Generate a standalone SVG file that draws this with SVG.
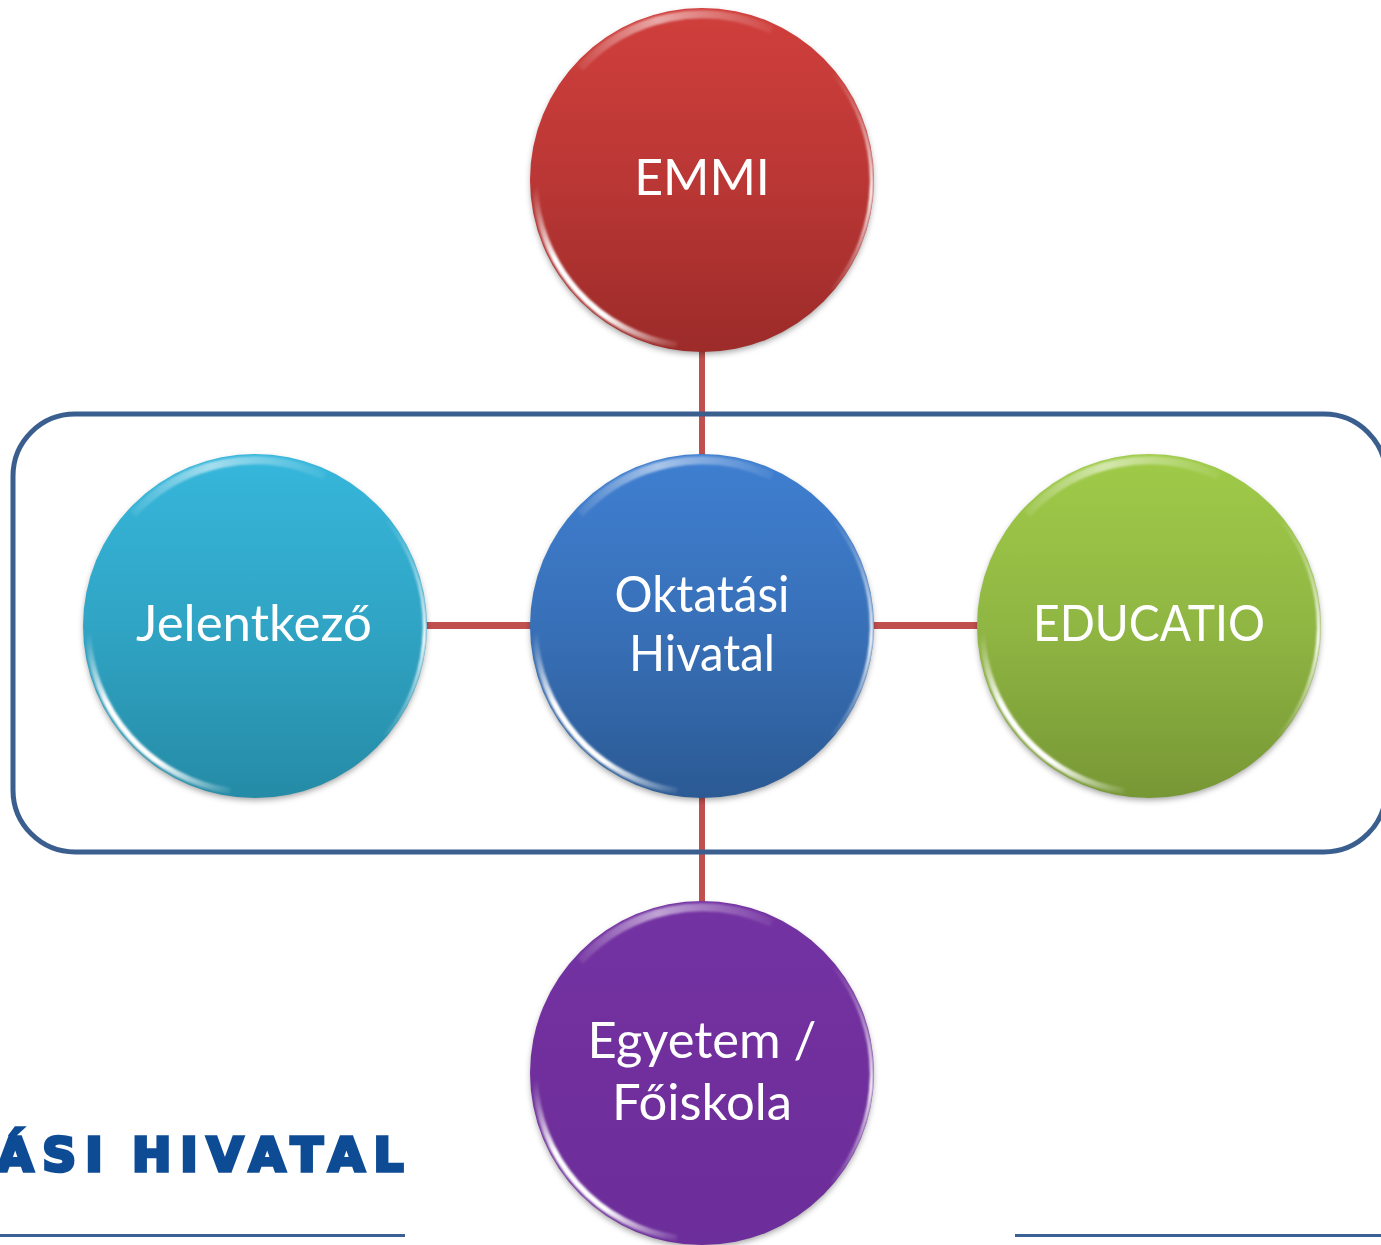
<svg xmlns="http://www.w3.org/2000/svg" xmlns:xlink="http://www.w3.org/1999/xlink" width="1381" height="1245" viewBox="0 0 1381 1245">
<style>
.disc{stroke:none}
.label{font-family:"Lato","Open Sans",sans-serif;font-size:50px;fill:#fff;text-anchor:middle}
.conn{stroke:#c0504d;fill:none}
.frame{fill:none;stroke:#3a5f8f;stroke-width:5}
.rule{stroke:#3a6096;stroke-width:3;fill:none}
.logo{font-family:"DejaVu Sans",sans-serif;font-weight:bold;font-size:47px;letter-spacing:9px;word-spacing:-5px;fill:#0f4c94;stroke:#0f4c94;stroke-width:3.500;stroke-linejoin:miter;text-anchor:end}
</style>
<defs>
<linearGradient id="gR" x1="0" y1="0" x2="0" y2="1"><stop offset="0" stop-color="#d03f3c"/><stop offset=".5" stop-color="#ba3735"/><stop offset="1" stop-color="#9c2b29"/></linearGradient>
<linearGradient id="gB" x1="0" y1="0" x2="0" y2="1"><stop offset="0" stop-color="#3f7fd1"/><stop offset=".5" stop-color="#3870b8"/><stop offset="1" stop-color="#2b5a94"/></linearGradient>
<linearGradient id="gC" x1="0" y1="0" x2="0" y2="1"><stop offset="0" stop-color="#36b7dc"/><stop offset=".5" stop-color="#30a4c4"/><stop offset="1" stop-color="#258ba6"/></linearGradient>
<linearGradient id="gG" x1="0" y1="0" x2="0" y2="1"><stop offset="0" stop-color="#9fcb48"/><stop offset=".5" stop-color="#90b643"/><stop offset="1" stop-color="#779735"/></linearGradient>
<linearGradient id="gP" x1="0" y1="0" x2="0" y2="1"><stop offset="0" stop-color="#7433a3"/><stop offset=".5" stop-color="#702f9c"/><stop offset="1" stop-color="#6c2e9a"/></linearGradient>
<filter id="sh" x="-10%" y="-10%" width="120%" height="125%"><feGaussianBlur stdDeviation="3"/></filter>
<filter id="bl" x="-20%" y="-20%" width="140%" height="140%"><feGaussianBlur stdDeviation=".8"/></filter>
<filter id="lg" x="-5%" y="-20%" width="110%" height="140%"><feGaussianBlur stdDeviation=".5"/></filter>
<clipPath id="cc"><circle r="172"/></clipPath>
<linearGradient id="hT" gradientUnits="userSpaceOnUse" x1="-135" y1="-100" x2="85" y2="-145"><stop offset="0" stop-color="#fff" stop-opacity="0"/><stop offset=".45" stop-color="#fff" stop-opacity=".55"/><stop offset="1" stop-color="#fff" stop-opacity="0"/></linearGradient>
<linearGradient id="hL" gradientUnits="userSpaceOnUse" x1="-170" y1="10" x2="-20" y2="168"><stop offset="0" stop-color="#fff" stop-opacity="0"/><stop offset=".3" stop-color="#fff" stop-opacity="1"/><stop offset=".65" stop-color="#fff" stop-opacity="1"/><stop offset="1" stop-color="#fff" stop-opacity="0"/></linearGradient>
<linearGradient id="hR" gradientUnits="userSpaceOnUse" x1="130" y1="-110" x2="130" y2="115"><stop offset="0" stop-color="#fff" stop-opacity="0"/><stop offset=".55" stop-color="#fff" stop-opacity="1"/><stop offset="1" stop-color="#fff" stop-opacity="0"/></linearGradient>
<g id="gloss" clip-path="url(#cc)">
<g filter="url(#bl)" fill="none">
<path d="M-122,-112 A165,165 0 0 1 70,-150" stroke="url(#hT)" stroke-width="8"/>
<path d="M-167,5 A167,167 0 0 0 -25,165" stroke="url(#hL)" stroke-width="6"/>
<path d="M132,-106 A170,170 0 0 1 130,110" stroke="url(#hR)" stroke-width="3.500"/>
</g>
</g>
<circle id="shadow" r="171" fill="#000" fill-opacity=".38" filter="url(#sh)"/>
</defs>

<g id="connectors">
<path class="conn" stroke-width="6" d="M702,345V460M702,792V907"/>
<path class="conn" stroke-width="7" d="M422,625.500H535M868,625.500H982"/>
</g>
<rect id="frame" class="frame" x="13" y="414" width="1373" height="438" rx="62"/>

<g id="node-emmi" transform="translate(702,180)">
<use xlink:href="#shadow" y="3"/><circle class="disc" r="172" fill="url(#gR)"/><use xlink:href="#gloss"/>
<text class="label" x="0" y="15">EMMI</text>
</g>
<g id="node-oh" transform="translate(702,626)">
<use xlink:href="#shadow" y="3"/><circle class="disc" r="172" fill="url(#gB)"/><use xlink:href="#gloss"/>
<text class="label" x="0" y="-14" textLength="175" lengthAdjust="spacingAndGlyphs">Oktatási</text>
<text class="label" x="0" y="45" textLength="146" lengthAdjust="spacingAndGlyphs">Hivatal</text>
</g>
<g id="node-jelentkezo" transform="translate(255,626)">
<use xlink:href="#shadow" y="3"/><circle class="disc" r="172" fill="url(#gC)"/><use xlink:href="#gloss"/>
<text class="label" x="-1" y="15" textLength="236" lengthAdjust="spacingAndGlyphs">Jelentkező</text>
</g>
<g id="node-educatio" transform="translate(1149,626)">
<use xlink:href="#shadow" y="3"/><circle class="disc" r="172" fill="url(#gG)"/><use xlink:href="#gloss"/>
<text class="label" x="0" y="15" textLength="232" lengthAdjust="spacingAndGlyphs">EDUCATIO</text>
</g>
<g id="node-egyetem" transform="translate(702,1073)">
<use xlink:href="#shadow" y="3"/><circle class="disc" r="172" fill="url(#gP)"/><use xlink:href="#gloss"/>
<text class="label" x="0" y="-15" textLength="229" lengthAdjust="spacingAndGlyphs">Egyetem /</text>
<text class="label" x="0" y="47" textLength="180" lengthAdjust="spacingAndGlyphs">Főiskola</text>
</g>

<g id="logo">
<text class="logo" x="412.500" y="1171" filter="url(#lg)">ÁSI HIVATAL</text>
<path class="rule" d="M0,1235.500H405M1015,1235.500H1381"/>
</g>
</svg>
